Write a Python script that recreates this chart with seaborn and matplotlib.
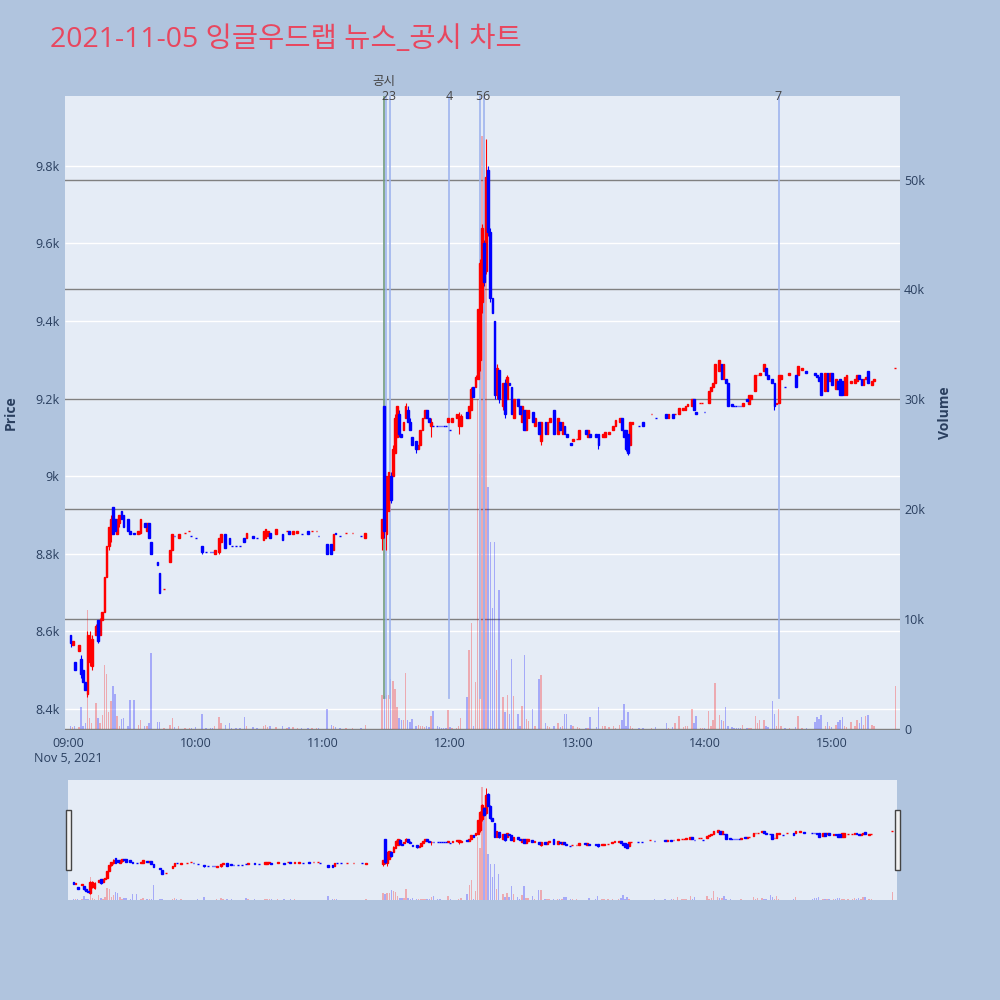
import numpy as np
import pandas as pd
import matplotlib
matplotlib.use("Agg")
import matplotlib.pyplot as plt
from matplotlib.patches import Rectangle
from matplotlib.transforms import blended_transform_factory
import seaborn as sns

plt.rcParams['font.family'] = ['Open Sans', 'Noto Sans CJK KR', 'DejaVu Sans']

# minutes after 09:00 for every 1-minute candle
minute = [
    1, 2, 3, 5, 6, 7, 8, 9, 10, 11,
    13, 14, 15, 16, 17, 18, 19, 20, 21, 22,
    23, 24, 25, 26, 28, 29, 31, 33, 34, 36,
    37, 38, 39, 42, 43, 45, 48, 49, 50, 52,
    55, 57, 58, 60, 63, 65, 67, 68, 69, 71,
    72, 74, 76, 77, 79, 81, 83, 84, 87, 89,
    92, 93, 94, 95, 98, 101, 103, 104, 106, 108,
    110, 113, 115, 117, 118, 122, 124, 125, 126, 128,
    131, 134, 138, 140, 148, 149, 150, 151, 152, 153,
    154, 155, 156, 157, 158, 159, 160, 161, 162, 164,
    165, 166, 167, 168, 169, 170, 171, 172, 174, 175,
    176, 177, 178, 179, 180, 181, 183, 184, 185, 188,
    189, 190, 191, 192, 193, 194, 195, 196, 197, 198,
    199, 200, 201, 202, 203, 205, 206, 207, 208, 209,
    210, 212, 213, 214, 215, 216, 217, 219, 220, 222,
    223, 225, 226, 227, 229, 231, 232, 233, 234, 235,
    237, 238, 240, 241, 244, 245, 246, 249, 250, 252,
    253, 255, 257, 258, 260, 261, 262, 263, 264, 265,
    266, 269, 271, 275, 277, 282, 283, 285, 286, 288,
    290, 291, 292, 294, 295, 296, 298, 299, 300, 302,
    303, 304, 305, 307, 308, 309, 310, 311, 313, 314,
    315, 316, 317, 318, 320, 321, 322, 324, 325, 326,
    328, 329, 330, 332, 333, 334, 335, 336, 338, 340,
    343, 344, 346, 348, 352, 353, 354, 355, 357, 358,
    359, 360, 362, 363, 364, 365, 366, 367, 369, 371,
    372, 373, 374, 375, 376, 377, 379, 380, 390,
]
open_ = [
    8590, 8565, 8520, 8550, 8530, 8500, 8470, 8440, 8520, 8510,
    8590, 8630, 8590, 8630, 8650, 8740, 8820, 8850, 8920, 8890,
    8850, 8880, 8910, 8900, 8890, 8860, 8855, 8850, 8855, 8880,
    8860, 8880, 8830, 8780, 8750, 8710, 8780, 8810, 8845, 8840,
    8855, 8860, 8845, 8840, 8820, 8805, 8805, 8805, 8800, 8805,
    8830, 8850, 8840, 8820, 8820, 8820, 8840, 8840, 8845, 8840,
    8835, 8840, 8845, 8855, 8850, 8850, 8860, 8860, 8850, 8855,
    8850, 8860, 8860, 8860, 8845, 8825, 8825, 8810, 8855, 8845,
    8855, 8855, 8845, 8840, 8840, 9180, 8850, 8910, 9000, 9000,
    9060, 9100, 9160, 9110, 9120, 9150, 9170, 9140, 9100, 9090,
    9070, 9080, 9120, 9150, 9170, 9150, 9130, 9130, 9130, 9130,
    9130, 9130, 9130, 9140, 9120, 9140, 9150, 9130, 9130, 9165,
    9150, 9170, 9230, 9230, 9250, 9300, 9450, 9600, 9530, 9790,
    9630, 9460, 9400, 9210, 9275, 9180, 9240, 9200, 9240, 9230,
    9150, 9200, 9180, 9140, 9170, 9120, 9150, 9165, 9130, 9140,
    9090, 9140, 9110, 9140, 9170, 9110, 9140, 9110, 9130, 9110,
    9085, 9090, 9095, 9095, 9120, 9100, 9110, 9110, 9110, 9100,
    9100, 9110, 9120, 9130, 9140, 9150, 9120, 9120, 9110, 9080,
    9135, 9130, 9140, 9160, 9150, 9160, 9150, 9160, 9160, 9160,
    9170, 9170, 9180, 9180, 9200, 9165, 9190, 9190, 9165, 9190,
    9220, 9230, 9240, 9270, 9290, 9250, 9250, 9240, 9185, 9180,
    9180, 9180, 9180, 9180, 9200, 9185, 9200, 9220, 9260, 9260,
    9270, 9280, 9260, 9250, 9240, 9185, 9190, 9250, 9230, 9260,
    9260, 9260, 9275, 9270, 9265, 9260, 9255, 9265, 9220, 9265,
    9245, 9265, 9225, 9245, 9250, 9245, 9210, 9210, 9240, 9240,
    9245, 9260, 9250, 9235, 9250, 9270, 9235, 9245, 9280,
]
high = [
    8590, 8575, 8520, 8565, 8540, 8500, 8470, 8600, 8600, 8590,
    8620, 8630, 8635, 8650, 8740, 8820, 8870, 8900, 8920, 8890,
    8890, 8900, 8910, 8900, 8890, 8860, 8855, 8860, 8890, 8880,
    8880, 8880, 8830, 8780, 8750, 8710, 8810, 8850, 8845, 8850,
    8855, 8860, 8845, 8840, 8820, 8805, 8805, 8805, 8810, 8840,
    8850, 8850, 8840, 8820, 8820, 8820, 8840, 8855, 8845, 8840,
    8860, 8865, 8860, 8855, 8865, 8850, 8860, 8860, 8860, 8860,
    8850, 8860, 8860, 8860, 8845, 8825, 8825, 8850, 8855, 8845,
    8855, 8855, 8845, 8855, 8890, 9180, 9000, 9010, 9010, 9080,
    9160, 9180, 9170, 9110, 9140, 9190, 9180, 9150, 9100, 9090,
    9080, 9120, 9150, 9170, 9170, 9150, 9150, 9130, 9130, 9130,
    9130, 9130, 9130, 9150, 9120, 9150, 9160, 9165, 9160, 9165,
    9180, 9230, 9230, 9260, 9430, 9560, 9650, 9610, 9870, 9800,
    9640, 9460, 9400, 9290, 9275, 9240, 9250, 9260, 9240, 9230,
    9200, 9200, 9180, 9180, 9170, 9170, 9170, 9165, 9150, 9140,
    9140, 9140, 9140, 9150, 9170, 9150, 9140, 9140, 9130, 9110,
    9085, 9095, 9095, 9120, 9120, 9120, 9110, 9110, 9110, 9110,
    9115, 9115, 9130, 9145, 9150, 9150, 9120, 9120, 9110, 9140,
    9140, 9130, 9140, 9160, 9150, 9160, 9160, 9160, 9160, 9175,
    9175, 9180, 9185, 9200, 9200, 9165, 9190, 9190, 9165, 9220,
    9230, 9240, 9290, 9300, 9290, 9290, 9250, 9240, 9185, 9180,
    9180, 9180, 9180, 9190, 9200, 9210, 9210, 9260, 9260, 9265,
    9290, 9280, 9260, 9250, 9240, 9190, 9260, 9260, 9230, 9265,
    9260, 9285, 9280, 9270, 9265, 9260, 9255, 9265, 9265, 9265,
    9265, 9265, 9250, 9245, 9250, 9245, 9255, 9260, 9245, 9250,
    9260, 9260, 9250, 9250, 9255, 9270, 9245, 9250, 9280,
]
low = [
    8560, 8565, 8500, 8550, 8480, 8470, 8450, 8430, 8510, 8500,
    8590, 8570, 8590, 8630, 8650, 8740, 8810, 8830, 8850, 8860,
    8850, 8870, 8890, 8870, 8860, 8850, 8850, 8850, 8850, 8870,
    8860, 8840, 8800, 8770, 8700, 8710, 8780, 8810, 8845, 8840,
    8855, 8860, 8845, 8840, 8800, 8805, 8805, 8805, 8800, 8800,
    8830, 8815, 8825, 8820, 8820, 8820, 8830, 8840, 8840, 8840,
    8835, 8840, 8845, 8840, 8850, 8835, 8860, 8850, 8850, 8855,
    8850, 8850, 8860, 8860, 8845, 8800, 8800, 8810, 8850, 8845,
    8855, 8855, 8845, 8840, 8810, 8840, 8810, 8910, 8930, 9000,
    9060, 9100, 9100, 9100, 9120, 9150, 9140, 9120, 9080, 9060,
    9070, 9080, 9120, 9150, 9150, 9140, 9100, 9130, 9130, 9130,
    9130, 9130, 9130, 9140, 9120, 9140, 9150, 9110, 9130, 9150,
    9150, 9170, 9205, 9230, 9250, 9270, 9420, 9490, 9520, 9620,
    9450, 9420, 9200, 9200, 9190, 9170, 9150, 9200, 9235, 9160,
    9150, 9180, 9160, 9140, 9120, 9120, 9150, 9140, 9130, 9110,
    9080, 9110, 9110, 9140, 9110, 9110, 9120, 9110, 9110, 9100,
    9080, 9090, 9095, 9095, 9110, 9100, 9100, 9100, 9070, 9100,
    9100, 9110, 9120, 9130, 9140, 9120, 9100, 9065, 9055, 9080,
    9135, 9130, 9130, 9160, 9150, 9150, 9150, 9150, 9160, 9160,
    9170, 9170, 9180, 9180, 9170, 9160, 9190, 9190, 9165, 9190,
    9220, 9230, 9240, 9270, 9250, 9250, 9240, 9180, 9180, 9180,
    9180, 9180, 9180, 9180, 9195, 9185, 9200, 9220, 9260, 9260,
    9270, 9260, 9250, 9240, 9170, 9185, 9190, 9250, 9230, 9260,
    9230, 9260, 9275, 9265, 9260, 9255, 9245, 9210, 9220, 9220,
    9245, 9235, 9225, 9225, 9210, 9210, 9210, 9210, 9240, 9240,
    9245, 9250, 9235, 9235, 9250, 9240, 9235, 9245, 9280,
]
close = [
    8570, 8575, 8500, 8565, 8490, 8470, 8450, 8590, 8590, 8580,
    8615, 8575, 8630, 8650, 8740, 8820, 8870, 8890, 8850, 8860,
    8890, 8900, 8890, 8870, 8860, 8850, 8850, 8860, 8890, 8870,
    8880, 8840, 8800, 8770, 8700, 8710, 8810, 8850, 8845, 8850,
    8855, 8860, 8845, 8840, 8805, 8805, 8805, 8805, 8810, 8840,
    8850, 8815, 8825, 8820, 8820, 8820, 8830, 8855, 8840, 8840,
    8860, 8865, 8860, 8840, 8865, 8835, 8860, 8850, 8860, 8860,
    8850, 8850, 8860, 8860, 8845, 8800, 8800, 8850, 8850, 8845,
    8855, 8855, 8845, 8855, 8890, 8860, 9000, 9010, 8940, 9070,
    9150, 9180, 9110, 9100, 9140, 9180, 9140, 9120, 9080, 9070,
    9080, 9120, 9150, 9170, 9150, 9140, 9140, 9130, 9130, 9130,
    9130, 9130, 9130, 9150, 9120, 9150, 9160, 9160, 9155, 9150,
    9180, 9225, 9205, 9255, 9430, 9550, 9640, 9500, 9770, 9630,
    9460, 9420, 9210, 9280, 9200, 9240, 9160, 9255, 9235, 9160,
    9200, 9180, 9160, 9180, 9120, 9170, 9170, 9140, 9150, 9110,
    9140, 9110, 9140, 9150, 9110, 9150, 9120, 9140, 9110, 9100,
    9080, 9095, 9095, 9120, 9110, 9120, 9100, 9100, 9080, 9110,
    9115, 9115, 9130, 9145, 9150, 9120, 9100, 9070, 9060, 9140,
    9140, 9130, 9130, 9160, 9150, 9150, 9160, 9150, 9160, 9175,
    9175, 9180, 9185, 9200, 9170, 9160, 9190, 9190, 9165, 9220,
    9230, 9240, 9290, 9300, 9250, 9290, 9240, 9180, 9180, 9180,
    9180, 9180, 9180, 9190, 9195, 9210, 9210, 9260, 9260, 9265,
    9290, 9260, 9250, 9240, 9180, 9190, 9260, 9260, 9230, 9265,
    9230, 9285, 9280, 9265, 9260, 9255, 9245, 9210, 9265, 9220,
    9265, 9235, 9250, 9225, 9210, 9210, 9255, 9260, 9245, 9250,
    9260, 9250, 9235, 9250, 9255, 9240, 9245, 9250, 9280,
]
volume = [
    300, 200, 300, 200, 2000, 300, 500, 10800, 1000, 500,
    2400, 1000, 500, 1300, 5800, 5000, 1500, 2500, 3900, 3200,
    1200, 300, 900, 1000, 300, 2600, 2600, 400, 800, 300,
    300, 500, 6900, 600, 600, 100, 400, 1000, 200, 300,
    100, 100, 100, 200, 1400, 100, 100, 100, 300, 1100,
    500, 400, 500, 100, 100, 100, 1100, 300, 200, 100,
    300, 400, 200, 300, 200, 300, 100, 200, 200, 100,
    100, 100, 100, 100, 100, 1800, 400, 300, 200, 100,
    100, 100, 100, 400, 3100, 3000, 3100, 3100, 4500, 4400,
    3600, 2000, 1000, 800, 800, 5100, 800, 600, 900, 300,
    400, 300, 300, 200, 300, 200, 1200, 1600, 300, 200,
    100, 100, 100, 1700, 200, 100, 100, 300, 1000, 2900,
    7200, 9600, 300, 4300, 30000, 25000, 54000, 40000, 45000, 22000,
    17000, 11000, 17000, 5400, 12600, 2900, 1500, 3100, 1400, 6400,
    3000, 1400, 300, 2100, 6700, 900, 700, 1800, 300, 4500,
    4900, 500, 300, 200, 300, 500, 200, 300, 1400, 1400,
    400, 300, 200, 100, 100, 100, 1100, 200, 2000, 300,
    300, 200, 300, 100, 400, 800, 2300, 300, 1500, 300,
    100, 100, 100, 100, 200, 500, 100, 200, 500, 1200,
    200, 300, 300, 1800, 500, 1200, 100, 100, 100, 1600,
    300, 800, 4200, 1300, 800, 700, 2000, 300, 200, 100,
    100, 100, 100, 400, 100, 100, 100, 1200, 500, 800,
    800, 300, 200, 2500, 1400, 300, 1800, 300, 100, 100,
    200, 1200, 100, 100, 600, 1100, 900, 1300, 300, 600,
    300, 200, 400, 600, 800, 1100, 300, 200, 600, 300,
    800, 500, 1100, 400, 1200, 1300, 400, 300, 3900,
]

# news / disclosure markers (minutes after 09:00)
news_minute = [148.7, 149.9, 151.9, 179.7, 193.9, 196.2, 334.9]
news_label = ["공시", "2", "3", "4", "5", "6", "7"]

hour_ticks = [0, 60, 120, 180, 240, 300, 360]
hour_labels = ["09:00\nNov 5, 2021", "10:00", "11:00", "12:00", "13:00", "14:00", "15:00"]
price_ticks = [8400, 8600, 8800, 9000, 9200, 9400, 9600, 9800]
price_labels = ["8.4k", "8.6k", "8.8k", "9k", "9.2k", "9.4k", "9.6k", "9.8k"]
vol_ticks = [0, 10000, 20000, 30000, 40000, 50000]
vol_labels = ["0", "10k", "20k", "30k", "40k", "50k"]

df = pd.DataFrame({"minute": minute, "open": open_, "high": high,
                   "low": low, "close": close, "volume": volume})

# candle direction: flat candles follow the previous close
dirs = []
prev_c, prev_d = None, "down"
for o, c in zip(df["open"], df["close"]):
    if c > o:
        d = "up"
    elif c < o:
        d = "down"
    elif prev_c is not None and c > prev_c:
        d = "up"
    elif prev_c is not None and c < prev_c:
        d = "down"
    else:
        d = prev_d
    dirs.append(d)
    prev_c, prev_d = c, d
df["dir"] = dirs

UP, DOWN = "#ff0000", "#0000ff"
BG = "#e5ecf6"
TXT = "#2a3f5f"
XLIM = (-1.6, 392.2)
PLIM = (8346, 9980)
VLIM = (-100, 57600)


def draw_candles(ax, wick_lw, body_lw, width):
    for d, col in [("up", UP), ("down", DOWN)]:
        sub = df[df["dir"] == d]
        ax.vlines(sub["minute"], sub["low"], sub["high"], color=col, linewidth=wick_lw, zorder=3)
        bottom = np.minimum(sub["open"], sub["close"])
        height = (sub["close"] - sub["open"]).abs()
        ax.bar(sub["minute"], height, width=width, bottom=bottom, color=col,
               edgecolor=col, linewidth=body_lw, zorder=4)


def draw_volume(ax):
    sns.histplot(data=df, x="minute", weights="volume", hue="dir", hue_order=["up", "down"],
                 discrete=True, shrink=0.7, palette={"up": UP, "down": DOWN},
                 alpha=0.28, linewidth=0, legend=False, ax=ax, zorder=1)


fig = plt.figure(figsize=(10, 10), dpi=100, facecolor="#b0c4de")

# main chart: volume axes underneath, price axes on top
ax = fig.add_axes([0.065, 0.27, 0.835, 0.634])
axv = ax.twinx()
ax.set_zorder(axv.get_zorder() + 1)
ax.patch.set_visible(False)
axv.patch.set_visible(True)
axv.patch.set_facecolor(BG)

draw_volume(axv)
axv.set_ylim(*VLIM)
axv.set_yticks(vol_ticks)
axv.set_yticklabels(vol_labels)
axv.set_ylabel("")
axv.grid(axis="y", color="#808080", linewidth=1.0, zorder=0.6)
axv.grid(axis="x", visible=False)
axv.set_axisbelow(True)
# price grid lines drawn under the volume bars
tr = blended_transform_factory(axv.transAxes, ax.transData)
axv.hlines(price_ticks, 0, 1, transform=tr, color="white", linewidth=1.0, zorder=0.5)

draw_candles(ax, 0.8, 1.0, 0.85)
trx = blended_transform_factory(ax.transData, ax.transAxes)
for i, m in enumerate(news_minute):
    col = "#6f9a7c" if i == 0 else "#9db3ee"
    ax.axvline(m, ymin=0.05, ymax=1.0, color=col, linewidth=1.3, alpha=0.9, zorder=2)

# marker labels: "공시" sits above, pairs of close numbers sit side by side
ax.text(news_minute[0], 1.023, news_label[0], transform=trx, ha="center", va="center",
        fontsize=9, color="#444444")
mid23 = (news_minute[1] + news_minute[2]) / 2
ax.text(mid23, 0.999, news_label[1], transform=trx, ha="right", va="center", fontsize=9, color="#444444")
ax.text(mid23, 0.999, news_label[2], transform=trx, ha="left", va="center", fontsize=9, color="#444444")
ax.text(news_minute[3], 0.999, news_label[3], transform=trx, ha="center", va="center", fontsize=9, color="#444444")
mid56 = (news_minute[4] + news_minute[5]) / 2
ax.text(mid56, 0.999, news_label[4], transform=trx, ha="right", va="center", fontsize=9, color="#444444")
ax.text(mid56, 0.999, news_label[5], transform=trx, ha="left", va="center", fontsize=9, color="#444444")
ax.text(news_minute[6], 0.999, news_label[6], transform=trx, ha="center", va="center", fontsize=9, color="#444444")

ax.set_xlim(*XLIM)
ax.set_ylim(*PLIM)
ax.set_yticks(price_ticks)
ax.set_yticklabels(price_labels)
ax.set_xticks(hour_ticks)
ax.set_xticklabels(hour_labels)
ax.set_xlabel("")
ax.set_ylabel("")
ax.grid(False)
ax.tick_params(axis="both", length=0, labelsize=9, labelcolor=TXT)
ax.tick_params(axis="y", pad=4)
ax.tick_params(axis="x", pad=5)
axv.tick_params(axis="y", length=0, labelsize=9, labelcolor=TXT, pad=3)
sns.despine(ax=ax, left=True, bottom=True)
sns.despine(ax=axv, left=True, bottom=True)

fig.text(0.011, 0.587, "Price", rotation=90, ha="center", va="center",
         fontsize=10, fontweight="bold", color=TXT)
fig.text(0.945, 0.587, "Volume", rotation=90, ha="center", va="center",
         fontsize=10, fontweight="bold", color=TXT)
fig.text(0.05, 0.96, "2021-11-05 잉글우드랩 뉴스_공시 차트", ha="left", va="center",
         fontsize=20.5, color="#e8475f")

# range slider overview
axm = fig.add_axes([0.068, 0.10, 0.829, 0.12])
axmv = axm.twinx()
axm.set_zorder(axmv.get_zorder() + 1)
axm.patch.set_visible(False)
axmv.patch.set_visible(True)
axmv.patch.set_facecolor(BG)
draw_volume(axmv)
axmv.set_ylim(*VLIM)
draw_candles(axm, 0.7, 1.0, 0.85)
axm.set_xlim(*XLIM)
axm.set_ylim(*PLIM)
for a in (axm, axmv):
    a.set_xticks([])
    a.set_yticks([])
    a.set_xlabel("")
    a.set_ylabel("")
    sns.despine(ax=a, left=True, bottom=True)

for hx in (0.066, 0.895):
    fig.patches.append(Rectangle((hx, 0.13), 0.005, 0.06, transform=fig.transFigure,
                                 facecolor="#f2f2f2", edgecolor="#444444", linewidth=1))

fig.savefig("out.png", dpi=100, facecolor=fig.get_facecolor())
